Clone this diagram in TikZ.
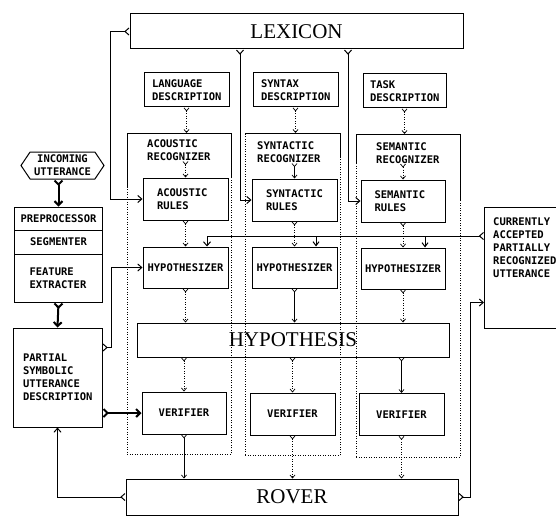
\documentclass[tikz,border=0pt]{standalone}
\usepackage{fontspec}
\setmainfont{Liberation Serif}
\newfontfamily\rcgmono{DejaVu Sans Mono}
\usepackage{tikz}
\usetikzlibrary{arrows.meta,shapes.symbols}

\newcommand{\boxtxt}{\rcgmono\bfseries\fontsize{10.5}{13}\selectfont}
\newcommand{\bigtxt}{\fontsize{21}{24}\selectfont}

\begin{document}
\begin{tikzpicture}[x=1pt,y=-1pt,
    every node/.style={inner sep=0pt,font=\boxtxt},
    box/.style={draw=black,line width=1pt,minimum width=85pt,minimum height=42pt,align=center},
    big/.style={draw=black,line width=1pt,font=\bigtxt,minimum height=35pt},
    rec/.style={draw=black,line width=0.6pt,dash pattern=on 1pt off 1.5pt},
    link/.style={line width=0.7pt,dash pattern=on 1pt off 1.5pt,
      {Straight Barb[reversed,length=3pt,width=5pt]}-{Straight Barb[length=3pt,width=5pt]}},
    solidlink/.style={link,solid},
    wire/.style={line width=1pt,
      {Straight Barb[reversed,length=4pt,width=7pt]}-{Straight Barb[length=4pt,width=7pt]}},
    fat/.style={line width=2pt,
      {Straight Barb[reversed,length=4pt,width=8pt]}-{Straight Barb[length=4pt,width=8pt]}},
    feed/.style={line width=1pt,-{Straight Barb[length=4pt,width=6pt]}}]
    \useasboundingbox (0,0) rectangle (556,516);

    % knowledge sources on top
    \node[big,minimum width=333pt] (lexicon) at (296.5,31.5) {LEXICON};
    \node[box,text width=69pt,align=left,minimum height=34pt] (langdesc) at (186.5,90) {LANGUAGE\\DESCRIPTION};
    \node[box,text width=69pt,align=left,minimum height=34pt] (syndesc) at (295.5,90) {SYNTAX\\DESCRIPTION};
    \node[box,text width=69pt,align=left,minimum width=83pt,minimum height=34pt] (taskdesc) at (404.5,91) {TASK\\DESCRIPTION};

    % recognizers
    \node[rec,minimum width=104pt,minimum height=321pt,anchor=north west] (acrec) at (127,133) {};
    \node[rec,minimum width=95pt,minimum height=322pt,anchor=north west] (synrec) at (245,133) {};
    \node[rec,minimum width=104pt,minimum height=323pt,anchor=north west] (semrec) at (356,134) {};
    \draw[line width=1pt] ([yshift=-55pt]acrec.north west) -- (acrec.north west) -- (acrec.north east) -- ([yshift=-45pt]acrec.north east);
    \draw[line width=1pt] (synrec.north west) -- (synrec.north east) -- ([yshift=-24pt]synrec.north east);
    \draw[line width=1pt] ([yshift=-30pt]semrec.north west) -- (semrec.north west) -- (semrec.north east) -- ([yshift=-66pt]semrec.north east);
    \node[text width=80pt,align=left,anchor=west] (acreclbl) at (147,150.5) {ACOUSTIC\\RECOGNIZER};
    \node[text width=80pt,align=left,anchor=west] (synreclbl) at (257,152.5) {SYNTACTIC\\RECOGNIZER};
    \node[text width=80pt,align=left,anchor=west] (semreclbl) at (376,153) {SEMANTIC\\RECOGNIZER};

    \node[box,text width=57pt,align=left] (acrules) at (185.5,199) {ACOUSTIC\\RULES};
    \node[box,text width=57pt,align=left] (synrules) at (294.5,200) {SYNTACTIC\\RULES};
    \node[box,text width=57pt,align=left,minimum width=84pt] (semrules) at (403,201) {SEMANTIC\\RULES};

    \node[box,minimum height=41pt] (hyp1) at (185.5,267.5) {HYPOTHESIZER};
    \node[box,minimum height=41pt] (hyp2) at (294.5,267.5) {HYPOTHESIZER};
    \node[box,minimum height=41pt,minimum width=84pt] (hyp3) at (403,268.5) {HYPOTHESIZER};

    \node[big,minimum width=312pt,minimum height=34pt] (hypothesis) at (293,340) {HYPOTHESIS};

    \node[box,minimum width=84pt] (ver1) at (184,413) {VERIFIER};
    \node[box] (ver2) at (292.5,414) {VERIFIER};
    \node[box] (ver3) at (401.5,414.5) {VERIFIER};

    \node[big,minimum width=332pt,minimum height=36pt] (rover) at (292,497) {ROVER};

    % input side
    \node[signal,signal to=west and east,signal pointer angle=112,draw=black,line width=1pt,
      minimum width=83pt,minimum height=27pt,align=center] (incoming) at (62.5,165.5) {INCOMING\\UTTERANCE};
    \node[box,minimum width=88pt,minimum height=23pt] (preproc) at (58.5,218.5) {PREPROCESSOR};
    \node[box,minimum width=88pt,minimum height=24pt] (segmenter) at (58.5,242) {SEGMENTER};
    \node[box,minimum width=88pt,minimum height=48pt,text width=58pt,align=left] (feature) at (58.5,278) {FEATURE\\EXTRACTER};
    \node[box,minimum width=89pt,minimum height=99pt,text width=69pt,align=left] (partial) at (57.5,377.5) {PARTIAL\\SYMBOLIC\\UTTERANCE\\DESCRIPTION};

    % output side
    \node[draw=black,line width=1pt,minimum width=80pt,minimum height=121pt,anchor=north west] (current) at (484,207) {};
    \node[align=left,anchor=north west] (currenttxt) at (493,218) {CURRENTLY\\ACCEPTED\\PARTIALLY\\RECOGNIZED\\UTTERANCE};

    % lexicon feeds the rules
    \coordinate (lx2) at (240,0);
    \coordinate (lx3) at (348,0);
    \draw[wire] (lexicon.west) -- ++(-19,0) |- (acrules.west);
    \draw[wire] (lexicon.south -| lx2) |- (synrules.west);
    \draw[wire] (lexicon.south -| lx3) |- (semrules.west);

    % columns
    \draw[link] (langdesc.south) -- (langdesc.south |- acrec.north);
    \draw[link] (syndesc.south) -- (syndesc.south |- synrec.north);
    \draw[link] (taskdesc.south) -- (taskdesc.south |- semrec.north);
    \draw[link] (acrules.north |- acreclbl.south) -- (acrules.north);
    \draw[solidlink] (synrules.north |- synreclbl.south) -- (synrules.north);
    \draw[link] (semrules.north |- semreclbl.south) -- (semrules.north);
    \draw[link] (acrules) -- (hyp1);
    \draw[link] (synrules) -- (hyp2);
    \draw[link] (semrules) -- (hyp3);
    \draw[link] (hyp1.south) -- (hyp1.south |- hypothesis.north);
    \draw[solidlink] (hyp2.south) -- (hyp2.south |- hypothesis.north);
    \draw[link] (hyp3.south) -- (hyp3.south |- hypothesis.north);
    \draw[link] (hypothesis.south -| ver1.north) -- (ver1.north);
    \draw[link] (hypothesis.south -| ver2.north) -- (ver2.north);
    \draw[solidlink] (hypothesis.south -| ver3.north) -- (ver3.north);
    \draw[solidlink] (ver1.south) -- (ver1.south |- rover.north);
    \draw[link] (ver2.south) -- (ver2.south |- rover.north);
    \draw[link] (ver3.south) -- (ver3.south |- rover.north);

    % feedback of the accepted utterance
    \coordinate (fb1) at (207,236);
    \coordinate (fb2) at (316,236);
    \coordinate (fb3) at (425,236);
    \draw[wire] (current.west |- fb1) -- (fb1) -- (fb1 |- hyp1.north);
    \draw[feed] (fb2) -- (fb2 |- hyp2.north);
    \draw[feed] (fb3) -- (fb3 |- hyp3.north);

    % front end
    \draw[fat] (preproc.north |- incoming.south) -- (preproc.north);
    \draw[fat] (feature.south) -- (partial.north);
    \draw[wire] ([yshift=30pt]partial.east) -- ++(9,0) |- (hyp1.west);
    \draw[fat] (partial.east |- ver1.west) -- (ver1.west);
    \draw[wire] (rover.west) -| (partial.south);
    \draw[wire] (rover.east) -- ++(12,0) |- ([yshift=-34.5pt]current.west);
\end{tikzpicture}
\end{document}
